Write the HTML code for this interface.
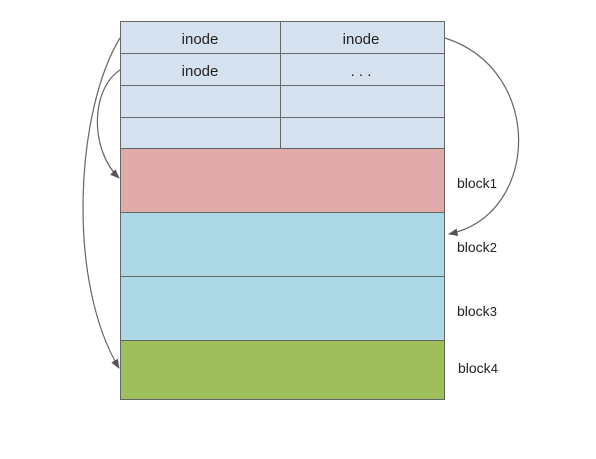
<!DOCTYPE html>
<html><head><meta charset="utf-8"><style>
html,body{margin:0;padding:0;background:#fff;width:596px;height:459px;overflow:hidden}
svg text{font-family:"Liberation Sans",Arial,sans-serif;fill:#222}
</style></head><body>
<svg width="596" height="459" viewBox="0 0 596 459">
<defs><marker id="ah" viewBox="0 0 10 10" refX="9" refY="5" markerWidth="8" markerHeight="8" orient="auto-start-reverse"><path d="M0,1 L10,5 L0,9 z" fill="#555"/></marker></defs>
<g stroke="#666" stroke-width="1">
<rect x="120.5" y="21.5" width="324" height="127" fill="#d6e1ef"/>
<line x1="120" y1="53.5" x2="444" y2="53.5"/>
<line x1="120" y1="85.5" x2="444" y2="85.5"/>
<line x1="120" y1="117.5" x2="444" y2="117.5"/>
<line x1="280.5" y1="21" x2="280.5" y2="148"/>
</g>
<rect x="120.5" y="148.5" width="324" height="64" fill="#e1abab" stroke="#666"/>
<rect x="120.5" y="212.5" width="324" height="64" fill="#add8e6" stroke="#666"/>
<rect x="120.5" y="276.5" width="324" height="64" fill="#add8e6" stroke="#666"/>
<rect x="120.5" y="340.5" width="324" height="59" fill="#9ebf5c" stroke="#666"/>
<g font-size="15" text-anchor="middle">
<text x="200" y="44">inode</text>
<text x="361" y="44">inode</text>
<text x="200" y="76">inode</text>
<text x="361" y="76">. . .</text>
</g>
<g font-size="14">
<text x="457" y="188">block<tspan font-size="13">1</tspan></text>
<text x="457" y="252">block<tspan font-size="13">2</tspan></text>
<text x="457" y="316">block<tspan font-size="13">3</tspan></text>
<text x="458" y="373">block<tspan font-size="13">4</tspan></text>
</g>
<g fill="none" stroke="#666" stroke-width="1.2">
<path d="M120,38 C76,110 66,280 119,368" marker-end="url(#ah)"/>
<path d="M120,70 C90,90 90,150 119,178" marker-end="url(#ah)"/>
<path d="M445,38 C545,70 540,215 449,234" marker-end="url(#ah)"/>
</g>
</svg>
</body></html>
